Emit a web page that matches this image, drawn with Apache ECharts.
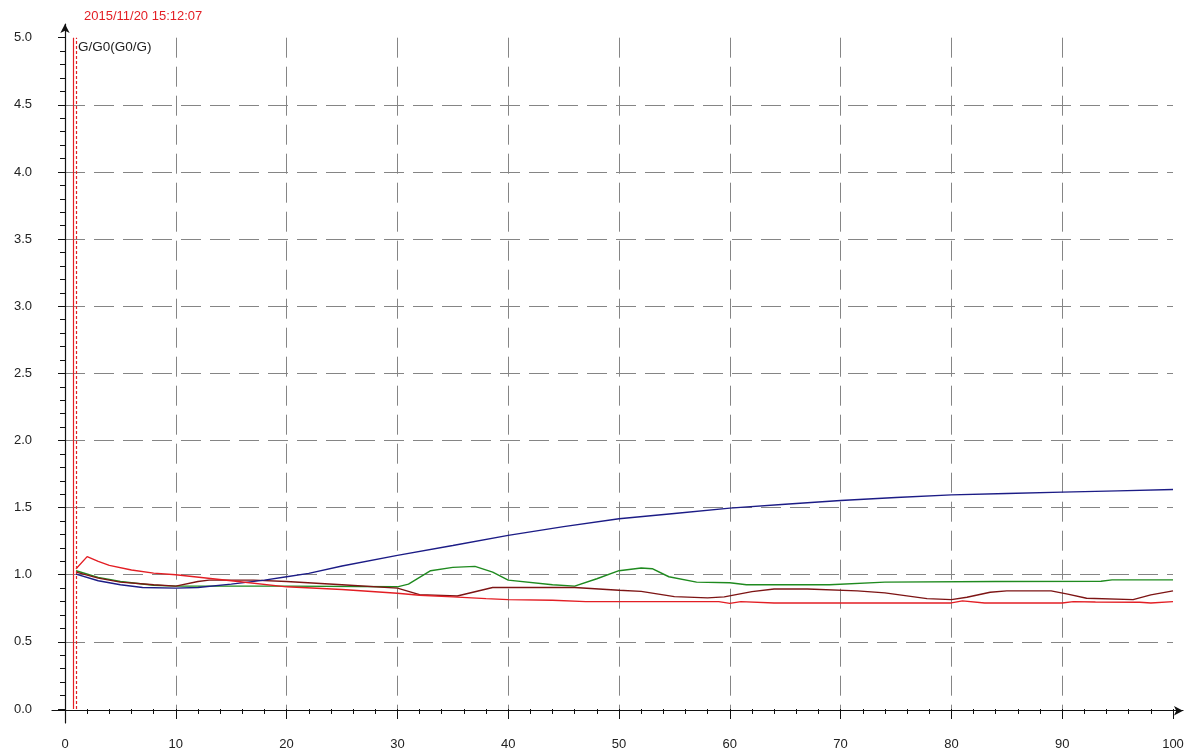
<!DOCTYPE html>
<html>
<head>
<meta charset="utf-8">
<script src="https://cdn.jsdelivr.net/npm/echarts@6/dist/echarts.min.js"></script>
<style>
  html, body { margin: 0; padding: 0; background: #fff; }
  #chart1 { width: 1188px; height: 751px; }
</style>
</head>
<body>
<div id="chart1"></div>
<script>
// values, [x, G/G0]
var blueLine = [[1, 1.005], [3, 0.955], [5, 0.925], [7, 0.905], [10, 0.9], [12, 0.905], [15, 0.93], [18, 0.96], [20, 0.985],
    [22, 1.01], [25, 1.065], [30, 1.144], [35, 1.218], [40, 1.293], [45, 1.358], [50, 1.417], [55, 1.456], [60, 1.496],
    [65, 1.525], [70, 1.553], [75, 1.575], [80, 1.595], [85, 1.605], [90, 1.615], [95, 1.625], [100, 1.635]];

var greenLine = [[1, 1.03], [3, 0.98], [5, 0.95], [8, 0.922], [10, 0.915], [20, 0.915], [30, 0.91], [31, 0.93], [33, 1.03],
    [35, 1.055], [37, 1.062], [38.6, 1.02], [40, 0.96], [44, 0.925], [46, 0.915], [48, 0.97], [50, 1.03], [52, 1.05],
    [53, 1.045], [54.5, 0.985], [57, 0.945], [60, 0.94], [61.5, 0.925], [69, 0.925], [74, 0.945], [84, 0.95],
    [93.5, 0.952], [94.5, 0.962], [100, 0.962]];

var darkRedLine = [[1, 1.02], [3, 0.975], [5, 0.945], [8, 0.925], [10, 0.915], [12, 0.95], [13, 0.96], [17, 0.96], [20, 0.95],
    [25, 0.925], [30, 0.9], [32, 0.852], [35.4, 0.842], [38.6, 0.905], [46, 0.905], [50, 0.885], [52, 0.876], [55, 0.837],
    [58, 0.828], [59.5, 0.835], [62, 0.874], [64, 0.894], [67, 0.894], [71.5, 0.88], [74, 0.865], [77.8, 0.822],
    [80, 0.815], [81.4, 0.832], [83.5, 0.87], [85, 0.88], [89, 0.88], [90.5, 0.856], [92.2, 0.825], [96.4, 0.815],
    [98, 0.85], [100, 0.88]];

var redLine = [[1, 1.045], [2, 1.135], [3, 1.1], [4, 1.07], [6, 1.035], [8, 1.012], [10, 1.0], [15, 0.955], [20, 0.91],
    [25, 0.89], [30, 0.862], [32, 0.847], [35, 0.835], [38, 0.822], [40, 0.815], [44, 0.81], [47, 0.8], [59, 0.8],
    [60, 0.787], [61, 0.8], [64, 0.79], [80, 0.79], [81, 0.805], [83, 0.79], [90, 0.79], [91, 0.8], [93, 0.797],
    [97, 0.795], [98, 0.79], [100, 0.8]];

var cursorLines = [0.78, 1.02];
var stampText = '2015/11/20 15:12:07';
var yTitle = 'G/G0(G0/G)';

var font = 'Liberation Sans, Arial, sans-serif';
var dash = { color: '#858585', width: 1, type: [20, 9] };

var dom = document.getElementById('chart1');
var myChart = echarts.init(dom);

function lineSeries(data, color) {
    return {
        type: 'line',
        data: data,
        showSymbol: false,
        symbol: 'none',
        lineStyle: { color: color, width: 1.4 },
        xAxisIndex: 0,
        yAxisIndex: 0,
        z: 3
    };
}

var red = lineSeries(redLine, '#e31e24');
red.markLine = {
    symbol: 'none',
    silent: true,
    label: { show: false },
    animation: false,
    data: [
        { xAxis: cursorLines[0], lineStyle: { color: '#e31e24', width: 1.2, type: 'solid' } },
        { xAxis: cursorLines[1], lineStyle: { color: '#e31e24', width: 1.2, type: [3, 2] } }
    ]
};

myChart.setOption({
    animation: false,
    backgroundColor: '#fff',
    textStyle: { fontFamily: font },
    graphic: [
        { type: 'text', left: 84, top: 10, style: { text: stampText, fill: '#e31e24', font: '13px ' + font } },
        { type: 'text', left: 78, top: 40, style: { text: yTitle, fill: '#222', font: '13.5px ' + font } }
    ],
    grid: [
        { left: 65, right: 15, top: 37.7, bottom: 40.3 },
        { left: 52, right: 5, top: 24, bottom: 28 }
    ],
    xAxis: [{
        type: 'value',
        gridIndex: 0,
        min: 0,
        max: 100,
        interval: 10,
        axisLine: { show: false },
        axisTick: { show: true, length: 10, lineStyle: { color: '#111' } },
        minorTick: { show: true, splitNumber: 5, length: 5, lineStyle: { color: '#111' } },
        axisLabel: { margin: 29, color: '#222', fontSize: 13, fontFamily: font },
        splitLine: { show: true, showMinLine: false, showMaxLine: false, lineStyle: dash }
    }, {
        type: 'value',
        gridIndex: 1,
        min: -1.173,
        max: 100.9,
        axisLine: { show: true, onZero: true, symbol: ['none', 'arrow'], symbolSize: [7, 9], lineStyle: { color: '#111', width: 1.2 } },
        axisTick: { show: false },
        axisLabel: { show: false },
        splitLine: { show: false }
    }],
    yAxis: [{
        type: 'value',
        gridIndex: 0,
        min: 0,
        max: 5,
        interval: 0.5,
        axisLine: { show: false },
        axisTick: { show: true, length: 7, lineStyle: { color: '#111' } },
        minorTick: { show: true, splitNumber: 5, length: 5, lineStyle: { color: '#111' } },
        axisLabel: {
            margin: 33,
            color: '#222',
            fontSize: 13,
            fontFamily: font,
            align: 'right',
            formatter: function (v) { return v.toFixed(1); }
        },
        splitLine: { show: true, showMinLine: false, showMaxLine: false, lineStyle: dash }
    }, {
        type: 'value',
        gridIndex: 1,
        min: -0.091,
        max: 5.1,
        axisLine: { show: true, onZero: true, symbol: ['none', 'arrow'], symbolSize: [7, 9], lineStyle: { color: '#111', width: 1.2 } },
        axisTick: { show: false },
        axisLabel: { show: false },
        splitLine: { show: false }
    }],
    series: [
        lineSeries(greenLine, '#1f8a1f'),
        lineSeries(darkRedLine, '#7d1414'),
        lineSeries(blueLine, '#1c1c86'),
        red
    ]
});
</script>
</body>
</html>
